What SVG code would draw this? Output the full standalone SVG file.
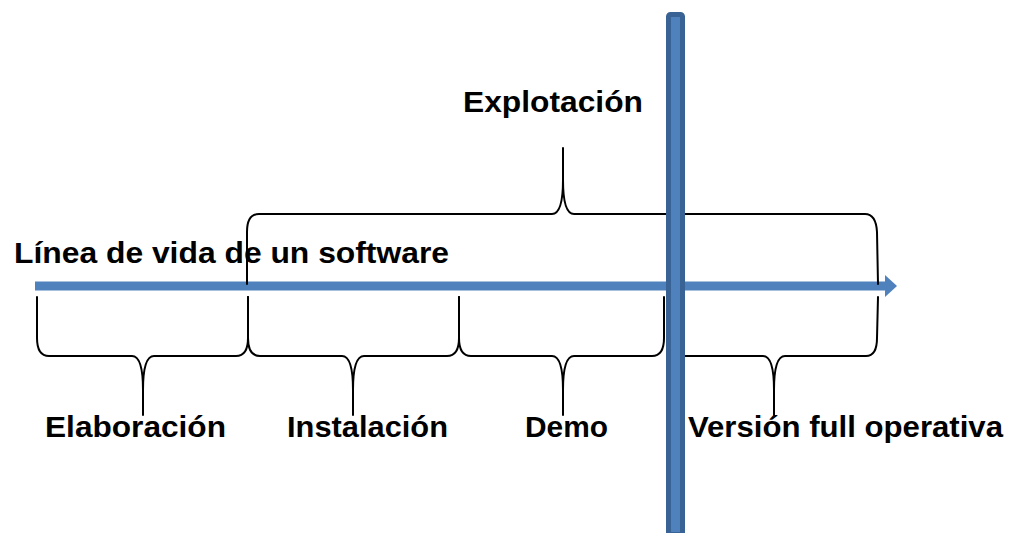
<svg xmlns="http://www.w3.org/2000/svg" width="1012" height="533" viewBox="0 0 1012 533">
  <style>
    .lbl { font-family: "Liberation Sans", Arial, sans-serif; font-weight: bold; font-size: 29px; fill: #000; }
    .brace { fill: none; stroke: #000; stroke-width: 2; stroke-linecap: round; stroke-linejoin: round; }
    .timeline { stroke: #4F81BD; stroke-width: 9; fill: none; }
  </style>
  <rect width="1012" height="533" fill="#fff"/>

  <!-- timeline arrow -->
  <g id="connectors">
    <line class="timeline" x1="35" y1="286" x2="886" y2="286"/>
    <polygon points="885,275 897,286 885,297" fill="#4F81BD"/>
  </g>

  <!-- title -->
  <g id="title">
    <text class="lbl" x="14" y="263" textLength="435" lengthAdjust="spacingAndGlyphs">Línea de vida de un software</text>
  </g>

  <!-- upper brace: Explotación -->
  <g id="explotacion">
    <path class="brace" d="M247,284 L247,232 Q247,214 259,214 L552,214 Q563,214 563,180 L563,148 M563,180 Q563,214 574,214 L865,214 Q876,214 877,232 L878,284"/>
    <text class="lbl" x="463" y="112" textLength="180" lengthAdjust="spacingAndGlyphs">Explotación</text>
  </g>

  <!-- lower braces -->
  <g id="elaboracion">
    <path class="brace" d="M37,297 L37,338 Q37,356 49,356 L132,356 Q143,356 143,390 L143,415 M143,390 Q143,356 154,356 L236,356 Q248,356 248,338 L248,297"/>
    <text class="lbl" x="45" y="437" textLength="181" lengthAdjust="spacingAndGlyphs">Elaboración</text>
  </g>

  <g id="instalacion">
    <path class="brace" d="M248,297 L248,338 Q248,356 260,356 L342,356 Q353,356 353,390 L353,415 M353,390 Q353,356 364,356 L447,356 Q459,356 459,338 L459,297"/>
    <text class="lbl" x="287" y="437" textLength="161" lengthAdjust="spacingAndGlyphs">Instalación</text>
  </g>

  <g id="demo">
    <path class="brace" d="M459,297 L459,338 Q459,356 471,356 L552,356 Q563,356 563,390 L563,415 M563,390 Q563,356 574,356 L652,356 Q664,356 664,338 L664,297"/>
    <text class="lbl" x="525" y="437" textLength="83" lengthAdjust="spacingAndGlyphs">Demo</text>
  </g>

  <g id="version-full">
    <path class="brace" d="M670,297 L670,338 Q670,356 682,356 L763,356 Q774,356 774,390 L774,415 M774,390 Q774,356 785,356 L866,356 Q877,356 877,338 L878,297"/>
    <text class="lbl" x="688" y="437" textLength="315" lengthAdjust="spacingAndGlyphs">Versión full operativa</text>
  </g>

  <!-- vertical cut-off bar -->
  <g id="cutoff">
    <rect x="668.5" y="14.5" width="14" height="520" rx="2" fill="#4F81BD" stroke="#3A6395" stroke-width="5"/>
  </g>
</svg>
